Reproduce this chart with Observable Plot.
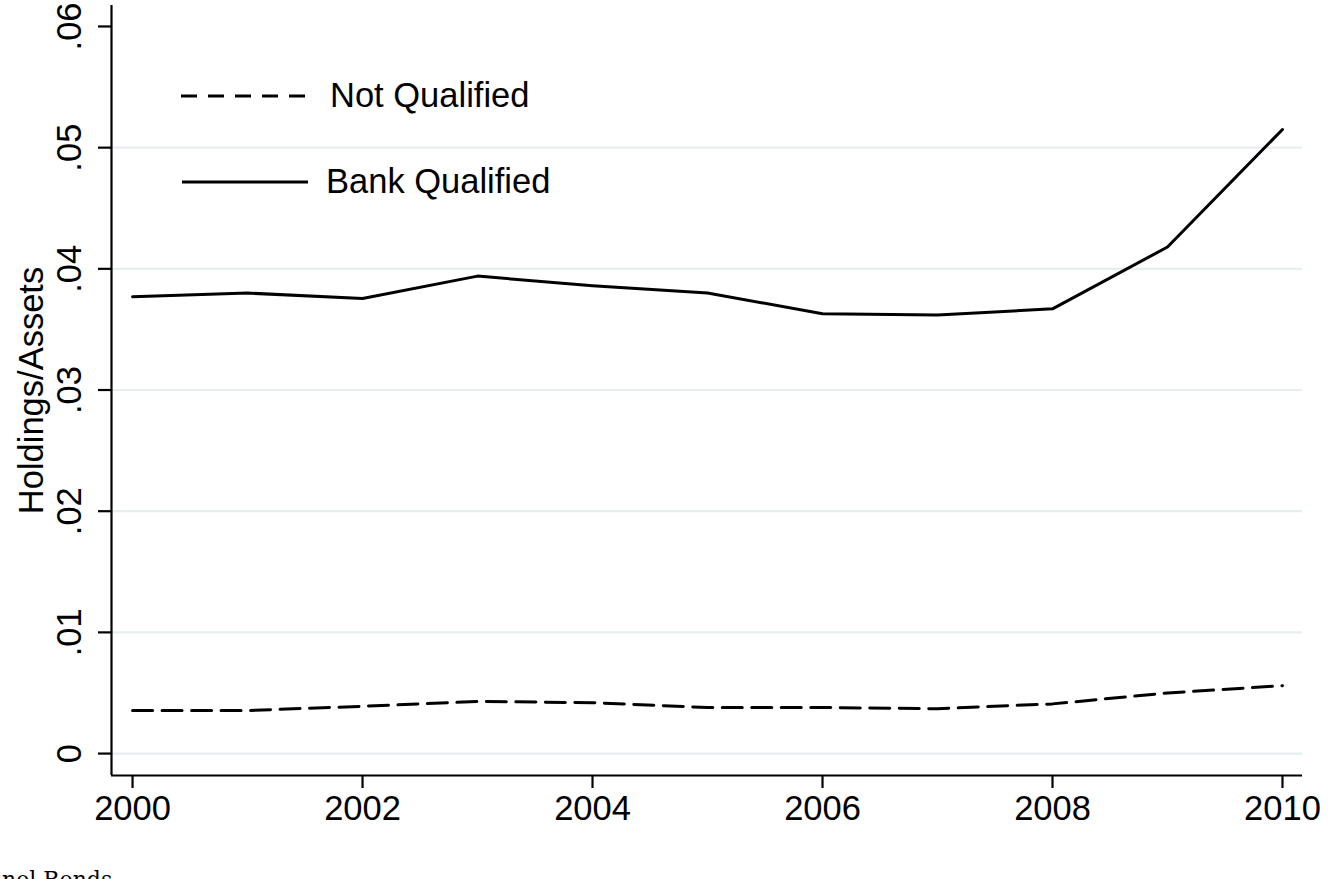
<!DOCTYPE html>
<html><head><meta charset="utf-8">
<script src="https://cdn.jsdelivr.net/npm/d3@7"></script>
<script src="https://cdn.jsdelivr.net/npm/@observablehq/plot@0.6"></script>
<style>
html,body{margin:0;padding:0;background:#fff;overflow:hidden;}
#wrap{position:relative;width:1334px;height:879px;}
#legend{position:absolute;left:0;top:0;}
#caption{position:absolute;left:2px;top:869px;font-family:"DejaVu Serif","Liberation Serif",serif;font-size:22px;line-height:1;color:#000;white-space:nowrap;}
</style></head><body>
<div id="wrap"></div>
<script>
const years = [2000,2001,2002,2003,2004,2005,2006,2007,2008,2009,2010];
const bankQualified = [0.0377,0.0380,0.03755,0.0394,0.0386,0.0380,0.0363,0.0362,0.0367,0.0418,0.0515];
const notQualified = [0.00355,0.00355,0.0039,0.0043,0.0042,0.0038,0.0038,0.0037,0.0041,0.0050,0.0056];
const seriesNames = ["Not Qualified","Bank Qualified"];
const yTicks = [0,0.01,0.02,0.03,0.04,0.05,0.06];
const yTickLabels = ["0",".01",".02",".03",".04",".05",".06"];
const gridTicks = [0,0.01,0.02,0.03,0.04,0.05];
const xTicks = [2000,2002,2004,2006,2008,2010];
const xTickLabels = ["2000","2002","2004","2006","2008","2010"];
const yLabel = "Holdings/Assets";
const captionText = "nel Bonds";

const xDomain = [1999.817, 2010.174];
const yDomain = [-0.00181, 0.06173];

const rows = [];
years.forEach((yr,i)=>{
  rows.push({year:yr, value:notQualified[i], series:seriesNames[0]});
  rows.push({year:yr, value:bankQualified[i], series:seriesNames[1]});
});
const font = "'Liberation Sans', Arial, Helvetica, sans-serif";
const fs = 34.5;

const chart = Plot.plot({
  width:1334, height:879,
  marginLeft:111, marginRight:32, marginTop:5, marginBottom:104,
  style:{fontFamily:font, background:"#fff", color:"#000"},
  x:{domain:xDomain},
  y:{domain:yDomain},
  marks:[
    Plot.ruleY(gridTicks, {stroke:"#e6eff0", strokeWidth:2.2}),
    Plot.line(rows.filter(d=>d.series===seriesNames[0]), {x:"year", y:"value", stroke:"#000", strokeWidth:3, strokeDasharray:"20,9.5"}),
    Plot.line(rows.filter(d=>d.series===seriesNames[1]), {x:"year", y:"value", stroke:"#000", strokeWidth:3}),
    Plot.ruleX([xDomain[0]], {stroke:"#000", strokeWidth:2.2}),
    Plot.ruleY([yDomain[0]], {stroke:"#000", strokeWidth:2.2}),
    Plot.axisY(yTicks, {tickFormat:(d)=>yTickLabels[yTicks.indexOf(d)], tickRotate:-90, tickSize:13, tickPadding:18, fontSize:fs, stroke:"#000", strokeWidth:2.2, label:null}),
    Plot.axisX(xTicks, {tickFormat:d=>xTickLabels[xTicks.indexOf(d)], tickSize:13, tickPadding:7, fontSize:fs, stroke:"#000", strokeWidth:2.2, label:null}),
    Plot.text([yLabel], {frameAnchor:"left", rotate:-90, dx:-69, textAnchor:"middle", lineAnchor:"bottom", fontSize:fs, fill:"#000"})
  ]
});
const wrap = document.getElementById("wrap");
wrap.appendChild(chart);

// legend overlay
const ns = "http://www.w3.org/2000/svg";
const leg = document.createElementNS(ns,"svg");
leg.setAttribute("id","legend");
leg.setAttribute("width","600"); leg.setAttribute("height","220");
const entries = [
  {name:seriesNames[0], dash:"16,11", x1:181, x2:310, ly:96, tx:330, ty:107},
  {name:seriesNames[1], dash:null, x1:182, x2:308, ly:182, tx:326, ty:193}
];
entries.forEach(e=>{
  const l = document.createElementNS(ns,"line");
  l.setAttribute("x1",e.x1); l.setAttribute("x2",e.x2);
  l.setAttribute("y1",e.ly); l.setAttribute("y2",e.ly);
  l.setAttribute("stroke","#000"); l.setAttribute("stroke-width","3");
  if(e.dash) l.setAttribute("stroke-dasharray",e.dash);
  leg.appendChild(l);
  const t = document.createElementNS(ns,"text");
  t.setAttribute("x",e.tx); t.setAttribute("y",e.ty);
  t.setAttribute("font-family",font); t.setAttribute("font-size",fs);
  t.setAttribute("fill","#000");
  t.textContent = e.name;
  leg.appendChild(t);
});
wrap.appendChild(leg);

const cap = document.createElement("div");
cap.id = "caption";
cap.textContent = captionText;
wrap.appendChild(cap);
</script>
</body></html>
